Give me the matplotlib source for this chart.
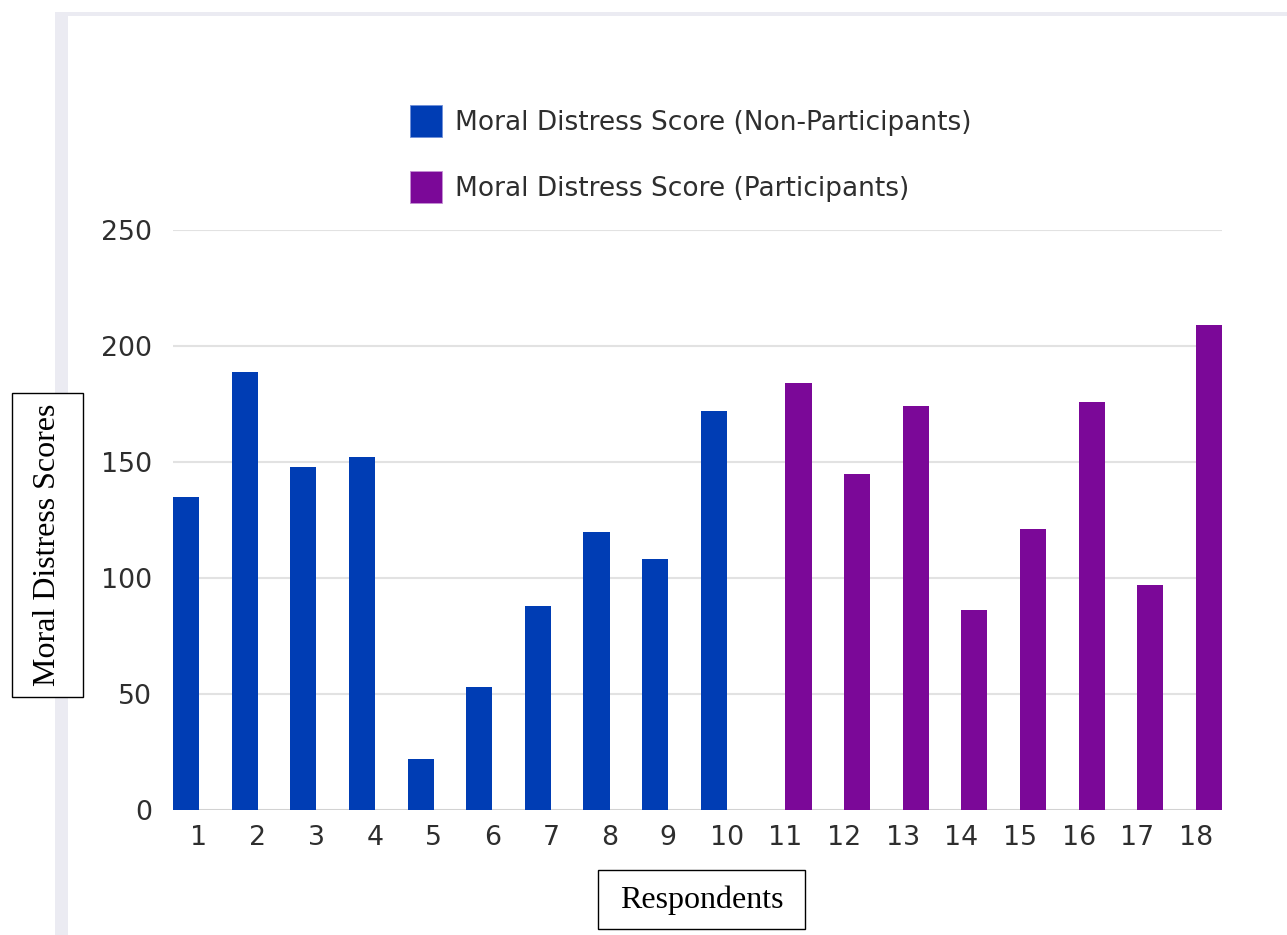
import matplotlib
matplotlib.use("Agg")
import matplotlib.pyplot as plt
from matplotlib.patches import Rectangle, Patch
import numpy as np

respondents = [str(i) for i in range(1, 19)]
non_participants = [135, 189, 148, 152, 22, 53, 88, 120, 108, 172,
                    0, 0, 0, 0, 0, 0, 0, 0]
participants = [0, 0, 0, 0, 0, 0, 0, 0, 0, 0,
                184, 145, 174, 86, 121, 176, 97, 209]
y_ticks = [0, 50, 100, 150, 200, 250]

BLUE = "#003db4"
PURPLE = "#7b0898"
TEXT = "#2e2e2e"
SANS = "DejaVu Sans"

W, H = 1287, 935
fig = plt.figure(figsize=(W / 100, H / 100), dpi=100)
fig.patch.set_facecolor("white")

def px(x0, y0, x1, y1):
    """Figure-fraction rectangle from pixel coordinates (top-left origin)."""
    return (x0 / W, 1 - y1 / H), (x1 - x0) / W, (y1 - y0) / H

# card frame strips
for (x0, y0, x1, y1) in [(55, 12, 68, H), (55, 12, W, 16)]:
    xy, w, h = px(x0, y0, x1, y1)
    fig.patches.append(Rectangle(xy, w, h, transform=fig.transFigure,
                                 facecolor="#ebebf2", edgecolor="none", zorder=0))

ax = fig.add_axes([173 / W, 1 - 810 / H, (1222 - 173) / W, 580 / H])
x = np.arange(1, len(respondents) + 1)
bw = 0.444
ax.bar(x - bw / 2, non_participants, width=bw, color=BLUE, zorder=3,
       label="Moral Distress Score (Non-Participants)")
ax.bar(x + bw / 2, participants, width=bw, color=PURPLE, zorder=3,
       label="Moral Distress Score (Participants)")

ax.set_xlim(1 - bw, len(respondents) + bw)
ax.set_ylim(0, 250)
ax.set_yticks(y_ticks)
ax.set_xticks(x)
ax.set_xticklabels(respondents)
for s in ax.spines.values():
    s.set_visible(False)
ax.tick_params(length=0)
ax.tick_params(axis="y", pad=15)
ax.tick_params(axis="x", pad=11)
for lab in ax.get_xticklabels() + ax.get_yticklabels():
    lab.set_fontfamily(SANS)
    lab.set_fontsize(19.3)
    lab.set_color(TEXT)
for yv in y_ticks:
    ax.axhline(yv, color="#d2d2d2" if yv == 0 else "#e2e2e2", lw=1.5, zorder=1)

fs_leg = 19
sq = 23.0  # legend swatch side, points
hh = (sq / fs_leg - 0.245) / 0.65
handles = [Patch(facecolor=BLUE, edgecolor="#6f8fd8", lw=0.6),
           Patch(facecolor=PURPLE, edgecolor="#c48fd4", lw=0.6)]
leg = fig.legend(handles, ["Moral Distress Score (Non-Participants)",
                           "Moral Distress Score (Participants)"],
                 loc="upper left", bbox_to_anchor=(410 / W, 1 - 105 / H),
                 frameon=False, borderpad=0, borderaxespad=0,
                 handlelength=sq / fs_leg, handleheight=hh, handletextpad=0.5,
                 labelspacing=1.30, prop={"family": SANS, "size": fs_leg})
for t in leg.get_texts():
    t.set_color(TEXT)

# boxed axis titles
xy, w, h = px(12, 393, 83, 697)
fig.patches.append(Rectangle(xy, w, h, transform=fig.transFigure,
                             facecolor="white", edgecolor="black", lw=1.0, zorder=5))
fig.text(47.5 / W, 1 - 545 / H, "Moral Distress Scores", rotation=90,
         ha="center", va="center", family="Liberation Serif", fontsize=23,
         color="black", zorder=6)

xy, w, h = px(598, 870, 805, 929)
fig.patches.append(Rectangle(xy, w, h, transform=fig.transFigure,
                             facecolor="white", edgecolor="black", lw=1.0, zorder=5))
fig.text(701.5 / W, 1 - 900 / H, "Respondents", ha="center", va="center",
         family="Liberation Serif", fontsize=23, color="black", zorder=6)

fig.savefig("out.png", dpi=100)
